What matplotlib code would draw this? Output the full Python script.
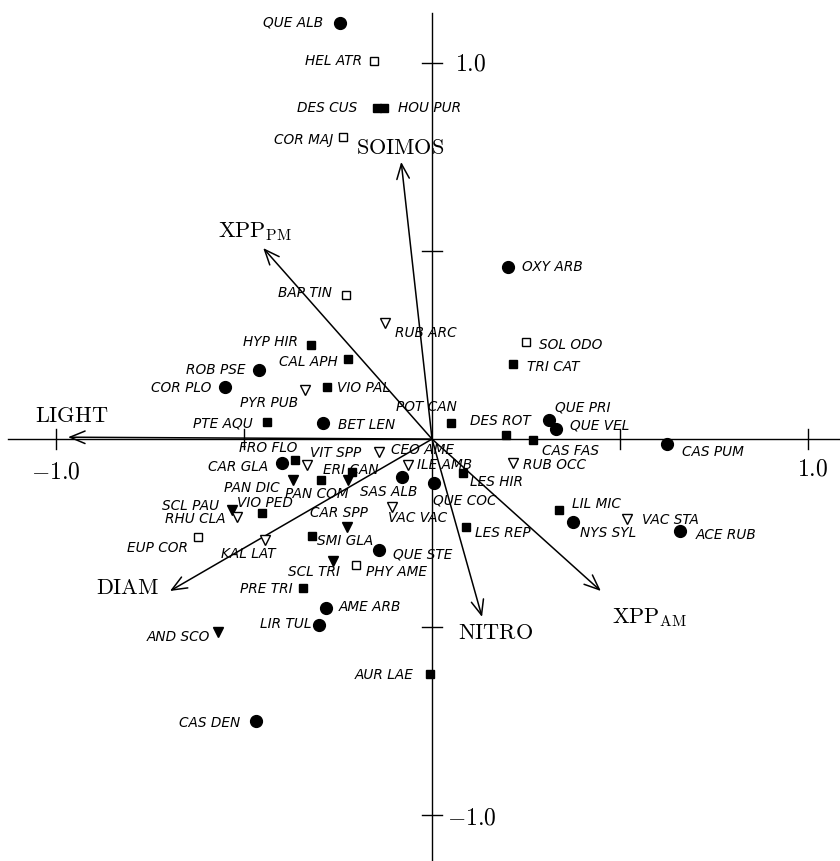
import matplotlib.pyplot as plt
import numpy as np

plt.rcParams['mathtext.fontset'] = 'cm'

# species scores (axis 1, axis 2) and growth-form group
species = ["QUE ALB", "HEL ATR", "DES CUS", "HOU PUR", "COR MAJ", "OXY ARB", "BAP TIN",
           "RUB ARC", "SOL ODO", "HYP HIR", "CAL APH", "TRI CAT", "ROB PSE", "COR PLO",
           "PYR PUB", "VIO PAL", "PTE AQU", "BET LEN", "POT CAN", "DES ROT", "QUE PRI",
           "QUE VEL", "CAS FAS", "CAS PUM", "FRO FLO", "CAR GLA", "VIT SPP", "CEO AME",
           "ERI CAN", "PAN COM", "", "PAN DIC", "ILE AMB", "SAS ALB", "QUE COC", "LES HIR",
           "RUB OCC", "VIO PED", "SCL PAU", "RHU CLA", "VAC VAC", "CAR SPP", "LES REP",
           "LIL MIC", "NYS SYL", "VAC STA", "ACE RUB", "SMI GLA", "QUE STE", "EUP COR",
           "KAL LAT", "SCL TRI", "PHY AME", "PRE TRI", "AME ARB", "LIR TUL", "AND SCO",
           "AUR LAE", "CAS DEN"]
sp_x = [-0.245, -0.154, -0.146, -0.128, -0.237, 0.202, -0.229,
        -0.125, 0.250, -0.322, -0.223, 0.215, -0.460, -0.551,
        -0.338, -0.279, -0.439, -0.290, 0.051, 0.197, 0.311,
        0.330, 0.269, 0.625, -0.364, -0.399, -0.332, -0.141,
        -0.213, -0.223, -0.295, -0.370, -0.064, -0.080, 0.005, 0.082,
        0.215, -0.452, -0.532, -0.519, -0.106, -0.226, 0.090,
        0.338, 0.375, 0.519, 0.660, -0.319, -0.141, -0.622,
        -0.444, -0.263, -0.202, -0.343, -0.282, -0.301, -0.569,
        -0.005, -0.468]
sp_y = [1.106, 1.005, 0.880, 0.880, 0.803, 0.457, 0.383,
        0.309, 0.258, 0.250, 0.213, 0.199, 0.184, 0.138,
        0.130, 0.138, 0.045, 0.043, 0.043, 0.011, 0.051,
        0.027, -0.003, -0.013, -0.056, -0.064, -0.069, -0.035,
        -0.088, -0.109, -0.109, -0.109, -0.069, -0.101, -0.117, -0.090,
        -0.064, -0.197, -0.189, -0.207, -0.181, -0.234, -0.234,
        -0.189, -0.221, -0.213, -0.245, -0.258, -0.295, -0.261,
        -0.269, -0.324, -0.335, -0.396, -0.449, -0.495, -0.513,
        -0.625, -0.750]
sp_group = ["tree", "forb", "herb", "herb", "forb", "tree", "forb",
            "shrub", "forb", "herb", "herb", "herb", "tree", "tree",
            "shrub", "herb", "herb", "tree", "herb", "herb", "tree",
            "tree", "herb", "tree", "herb", "tree", "shrub", "shrub",
            "herb", "gram", "herb", "gram", "shrub", "tree", "tree", "herb",
            "shrub", "herb", "gram", "shrub", "shrub", "gram", "herb",
            "herb", "tree", "shrub", "tree", "herb", "tree", "forb",
            "shrub", "gram", "forb", "herb", "tree", "tree", "gram",
            "herb", "tree"]

# environmental vectors
env_names = [r"$\mathrm{SOIMOS}$", r"$\mathrm{XPP}_{\mathrm{PM}}$", r"$\mathrm{LIGHT}$",
             r"$\mathrm{DIAM}$", r"$\mathrm{NITRO}$", r"$\mathrm{XPP}_{\mathrm{AM}}$"]
env_x = [-0.082, -0.449, -0.968, -0.697, 0.133, 0.449]
env_y = [0.737, 0.508, 0.005, -0.404, -0.473, -0.404]

ticks = [-1.0, -0.5, 0.5, 1.0]

styles = {
    "tree": dict(marker="o", ms=8.5, mfc="k", mec="k"),
    "herb": dict(marker="s", ms=6.2, mfc="k", mec="k"),
    "forb": dict(marker="s", ms=6.2, mfc="white", mec="k", mew=1.0),
    "shrub": dict(marker="v", ms=7.3, mfc="white", mec="k", mew=1.0),
    "gram": dict(marker="v", ms=7.5, mfc="k", mec="k"),
}

# label placement: offset in pixels from the point, and alignment
label_pos = {
    "QUE ALB": (-17, 1, "right"), "HEL ATR": (-12, 0, "right"), "DES CUS": (-20, 0, "right"),
    "HOU PUR": (14, 0, "left"), "COR MAJ": (-10, -3, "right"), "OXY ARB": (14, 0, "left"),
    "BAP TIN": (-14, 2, "right"), "RUB ARC": (10, -10, "left"), "SOL ODO": (13, -3, "left"),
    "HYP HIR": (-13, 3, "right"), "CAL APH": (-10, -3, "right"), "TRI CAT": (14, -3, "left"),
    "ROB PSE": (-14, 0, "right"), "COR PLO": (-13, -1, "right"), "PYR PUB": (-7, -13, "right"),
    "VIO PAL": (10, -1, "left"), "PTE AQU": (-14, -1, "right"), "BET LEN": (15, -2, "left"),
    "POT CAN": (6, 16, "right"), "DES ROT": (-36, 14, "left"), "QUE PRI": (6, 12, "left"),
    "QUE VEL": (14, 3, "left"), "CAS FAS": (9, -11, "left"), "CAS PUM": (15, -8, "left"),
    "FRO FLO": (2, 12, "right"), "CAR GLA": (-14, -4, "right"), "VIT SPP": (3, 12, "left"),
    "CEO AME": (12, 2, "left"), "ERI CAN": (-29, 2, "left"), "PAN COM": (0, -14, "right"),
    "PAN DIC": (-13, -8, "right"), "ILE AMB": (9, 0, "left"), "SAS ALB": (15, -15, "right"),
    "QUE COC": (-1, -17, "left"), "LES HIR": (7, -9, "left"), "RUB OCC": (10, -2, "left"),
    "VIO PED": (-25, 10, "left"), "SCL PAU": (-13, 4, "right"), "RHU CLA": (-11, -2, "right"),
    "VAC VAC": (-4, -11, "left"), "CAR SPP": (-37, 14, "left"), "LES REP": (9, -6, "left"),
    "LIL MIC": (13, 6, "left"), "NYS SYL": (7, -11, "left"), "VAC STA": (15, -1, "left"),
    "ACE RUB": (16, -4, "left"), "SMI GLA": (5, -5, "left"), "QUE STE": (14, -4, "left"),
    "EUP COR": (-10, -11, "right"), "KAL LAT": (-44, -14, "left"), "SCL TRI": (7, -11, "right"),
    "PHY AME": (10, -7, "left"), "PRE TRI": (-10, -1, "right"), "AME ARB": (13, 1, "left"),
    "LIR TUL": (-7, 1, "right"), "AND SCO": (-8, -5, "right"), "AUR LAE": (-17, -1, "right"),
    "CAS DEN": (-16, -2, "right"),
}
env_label_pos = [(-1, 14), (-8, 16), (4, 21), (-42, 3), (14, -16), (49, -27)]

fig = plt.figure(figsize=(8.4, 8.61), dpi=100)
ax = fig.add_axes([0, 0, 1, 1])
ax.set_xlim(-1.149, 1.085)
ax.set_ylim(-1.122, 1.1676)
ax.axis("off")

# axes through the origin with cross ticks
ax.plot([-1.128, 1.085], [0, 0], color="k", lw=1.0)
ax.plot([0, 0], [-1.122, 1.133], color="k", lw=1.0)
h = 0.027
for t in ticks:
    ax.plot([t, t], [-h, h], color="k", lw=1.0)
    ax.plot([-h, h], [t, t], color="k", lw=1.0)

ax.text(-1.0, -0.085, r"$-1.0$", fontsize=17, ha="center", va="center")
ax.text(1.013, -0.077, r"$1.0$", fontsize=17, ha="center", va="center")
ax.text(0.061, 1.0, r"$1.0$", fontsize=17, ha="left", va="center")
ax.text(0.040, -1.005, r"$-1.0$", fontsize=17, ha="left", va="center")

# environmental arrows
for name, x, y, (dx, dy) in zip(env_names, env_x, env_y, env_label_pos):
    ax.annotate("", xy=(x, y), xytext=(0, 0),
                arrowprops=dict(arrowstyle="->,head_length=0.6,head_width=0.25",
                                lw=1.1, color="k", shrinkA=0, shrinkB=0,
                                mutation_scale=18))
    ax.annotate(name, xy=(x, y), xytext=(dx, dy), textcoords="offset pixels",
                fontsize=16, ha="center", va="center")

# species points and labels
for name, x, y, g in zip(species, sp_x, sp_y, sp_group):
    ax.plot(x, y, ls="none", **styles[g], zorder=3)
    if name:
        dx, dy, ha = label_pos[name]
        ax.annotate(name, xy=(x, y), xytext=(dx, dy), textcoords="offset pixels",
                    fontsize=9.8, fontstyle="italic", family="DejaVu Sans",
                    ha=ha, va="center")

fig.savefig("out.png", dpi=100)
